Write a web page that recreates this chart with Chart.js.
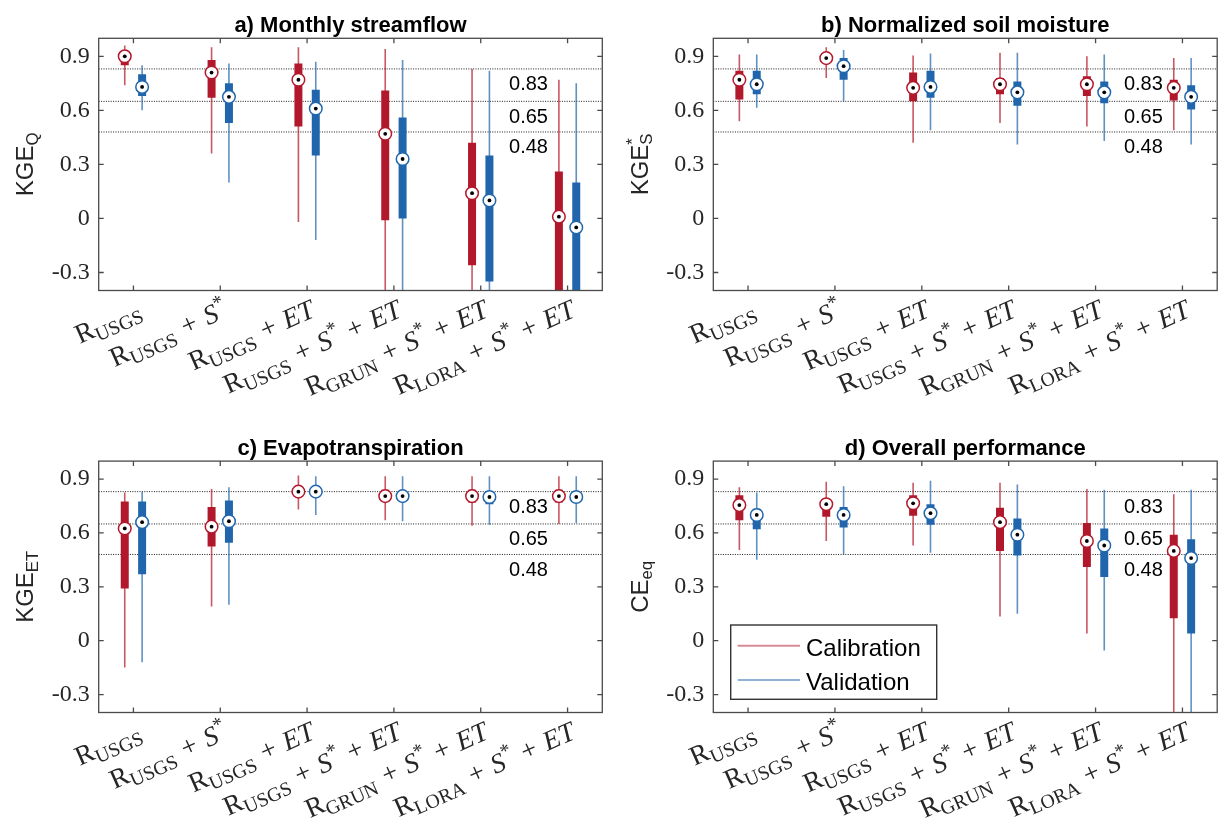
<!DOCTYPE html>
<html>
<head>
<meta charset="utf-8">
<script src="https://cdn.jsdelivr.net/npm/chart.js@4.4.1/dist/chart.umd.min.js"></script>
<style>
  body { margin: 0; background: #fff; }
  #wrap { position: relative; width: 1225px; height: 836px; }
  #wrap canvas { position: absolute; left: 0; top: 0; }
</style>
</head>
<body>
<div id="wrap">
  <canvas id="panelA" width="1225" height="836"></canvas>
  <canvas id="panelB" width="1225" height="836"></canvas>
  <canvas id="panelC" width="1225" height="836"></canvas>
  <canvas id="panelD" width="1225" height="836"></canvas>
</div>
<script>
// Categories (simple markup: _{} subscript, ^{} superscript)
const groups = ['R_{USGS}', 'R_{USGS} + S^{*}', 'R_{USGS} + ET', 'R_{USGS} + S^{*} + ET', 'R_{GRUN} + S^{*} + ET', 'R_{LORA} + S^{*} + ET'];
const yTicks = [-0.3, 0, 0.3, 0.6, 0.9];
const thresholds = [0.83, 0.65, 0.48];
const seriesNames = ['Calibration', 'Validation'];

// Box stats per group: [whisker low, q1, median, q3, whisker high]
// a) Monthly streamflow
const streamCal = [[0.74, 0.85, 0.90, 0.92, 0.96], [0.36, 0.67, 0.81, 0.88, 0.95], [-0.02, 0.51, 0.77, 0.86, 0.95],
  [-0.9, -0.01, 0.47, 0.71, 0.94], [-1.2, -0.26, 0.14, 0.42, 0.83], [-1.5, -0.6, 0.01, 0.26, 0.77]];
const streamVal = [[0.60, 0.68, 0.73, 0.80, 0.85], [0.20, 0.53, 0.675, 0.75, 0.86], [-0.12, 0.35, 0.61, 0.715, 0.87],
  [-0.8, 0.0, 0.33, 0.56, 0.88], [-1.2, -0.35, 0.10, 0.35, 0.82], [-1.5, -0.65, -0.05, 0.20, 0.75]];
// b) Normalized soil moisture
const soilCal = [[0.54, 0.66, 0.77, 0.82, 0.91], [0.78, 0.87, 0.89, 0.91, 0.95], [0.42, 0.65, 0.725, 0.81, 0.905],
  [0.53, 0.69, 0.745, 0.78, 0.92], [0.51, 0.68, 0.745, 0.79, 0.90], [0.49, 0.655, 0.725, 0.77, 0.89]];
const soilVal = [[0.615, 0.69, 0.745, 0.82, 0.91], [0.65, 0.77, 0.845, 0.89, 0.935], [0.49, 0.67, 0.73, 0.82, 0.915],
  [0.41, 0.625, 0.70, 0.76, 0.92], [0.43, 0.64, 0.70, 0.76, 0.91], [0.41, 0.605, 0.675, 0.74, 0.89]];
// c) Evapotranspiration
const etCal = [[-0.15, 0.29, 0.625, 0.775, 0.825], [0.19, 0.525, 0.635, 0.745, 0.845], [0.73, 0.815, 0.83, 0.845, 0.92],
  [0.67, 0.775, 0.805, 0.84, 0.915], [0.64, 0.77, 0.805, 0.84, 0.915], [0.65, 0.77, 0.805, 0.84, 0.915]];
const etVal = [[-0.12, 0.37, 0.66, 0.775, 0.83], [0.20, 0.545, 0.665, 0.78, 0.855], [0.70, 0.81, 0.83, 0.845, 0.915],
  [0.665, 0.785, 0.805, 0.825, 0.915], [0.645, 0.76, 0.80, 0.83, 0.915], [0.655, 0.78, 0.80, 0.825, 0.915]];
// d) Overall performance
const overallCal = [[0.505, 0.67, 0.755, 0.81, 0.855], [0.555, 0.69, 0.76, 0.79, 0.885], [0.53, 0.695, 0.765, 0.81, 0.88],
  [0.135, 0.50, 0.66, 0.74, 0.88], [0.04, 0.41, 0.555, 0.655, 0.845], [-0.9, 0.125, 0.50, 0.59, 0.815]];
const overallVal = [[0.45, 0.62, 0.70, 0.735, 0.825], [0.48, 0.63, 0.70, 0.745, 0.86], [0.49, 0.645, 0.71, 0.76, 0.89],
  [0.15, 0.475, 0.59, 0.68, 0.87], [-0.055, 0.355, 0.53, 0.625, 0.84], [-0.9, 0.04, 0.46, 0.565, 0.84]];

// Styling
const RED = '#b2182b';
const BLUE = '#2166ac';
const RED_WHISKER = 'rgba(178,24,43,0.72)';
const BLUE_WHISKER = 'rgba(33,102,172,0.72)';
const TEXT = '#262626';
const SERIF = '"Liberation Serif", "DejaVu Serif", serif';
const SANS = '"Liberation Sans", Arial, sans-serif';
const OFFSET = 0.1; // calibration left, validation right of each tick
const LABEL_X = 5.55; // where the threshold numbers sit
const X_MIN = 0.6, X_MAX = 6.4, Y_MIN = -0.4, Y_MAX = 1.0;
const LABEL_ROT = 24 * Math.PI / 180;
const Y_AXIS_W = 60;

const panels = [
  { id: 'panelA', title: 'a) Monthly streamflow', ylabel: 'KGE_{Q}', cal: streamCal, val: streamVal,
    area: { left: 98.7, top: 38.3, right: 602.3, bottom: 290.5 } },
  { id: 'panelB', title: 'b) Normalized soil moisture', ylabel: 'KGE_{S}^{*}', cal: soilCal, val: soilVal,
    area: { left: 713.3, top: 38.3, right: 1223.7, bottom: 290.5 } },
  { id: 'panelC', title: 'c) Evapotranspiration', ylabel: 'KGE_{ET}', cal: etCal, val: etVal,
    area: { left: 98.7, top: 461.1, right: 602.3, bottom: 712.5 } },
  { id: 'panelD', title: 'd) Overall performance', ylabel: 'CE_{eq}', cal: overallCal, val: overallVal,
    area: { left: 713.3, top: 461.1, right: 1223.7, bottom: 712.5 }, legend: true }
];

// Split 'R_{USGS} + S^{*}' into parts with a level (0 base, -1 sub, 1 sup)
function parseMarkup(str) {
  const out = [];
  let buf = '';
  let i = 0;
  while (i < str.length) {
    const c = str[i];
    if ((c === '_' || c === '^') && str[i + 1] === '{') {
      if (buf) { out.push({ text: buf, level: 0 }); buf = ''; }
      const end = str.indexOf('}', i);
      out.push({ text: str.slice(i + 2, end), level: c === '_' ? -1 : 1 });
      i = end + 1;
    } else {
      buf += c;
      i++;
    }
  }
  if (buf) out.push({ text: buf, level: 0 });
  return out;
}

function layoutRich(ctx, str, family, size, styleFor, spaceW, scriptScale) {
  const parts = parseMarkup(str);
  const items = [];
  const sc = scriptScale || 0.7;
  let x = 0, scriptStart = 0, scriptWidth = 0;
  parts.forEach((p, k) => {
    if (p.level === 0) {
      for (const ch of p.text) {
        const font = `${styleFor(ch)} ${size}px ${family}`;
        ctx.font = font;
        items.push({ text: ch, font, x, dy: 0 });
        x += (ch === ' ' && spaceW) ? spaceW : ctx.measureText(ch).width;
      }
    } else {
      const s = size * sc;
      const font = `normal ${s}px ${family}`;
      ctx.font = font;
      const w = ctx.measureText(p.text).width;
      if (k > 0 && parts[k - 1].level !== 0) {
        scriptWidth = Math.max(scriptWidth, w);
      } else {
        scriptStart = x;
        scriptWidth = w;
      }
      items.push({ text: p.text, font, x: scriptStart, dy: p.level < 0 ? size * 0.2 : -size * 0.4 });
      x = scriptStart + scriptWidth;
    }
  });
  return { items, width: x };
}

function drawRich(ctx, rich, x0, y0) {
  rich.items.forEach(it => {
    ctx.font = it.font;
    ctx.fillText(it.text, x0 + it.x, y0 + it.dy);
  });
}

const panelDecor = {
  id: 'panelDecor',
  afterDatasetsDraw(chart, args, opts) {
    const { ctx, chartArea: a } = chart;
    const x = chart.scales.x, y = chart.scales.y;
    ctx.save();

    // threshold numbers
    ctx.fillStyle = '#000';
    ctx.font = `20px ${SANS}`;
    ctx.textAlign = 'center';
    ctx.textBaseline = 'alphabetic';
    thresholds.forEach(t => {
      ctx.fillText(t.toFixed(2), x.getPixelForValue(LABEL_X), y.getPixelForValue(t) + 21.5);
    });

    // axes box with inward ticks
    ctx.strokeStyle = '#4a4a4a';
    ctx.lineWidth = 1.3;
    ctx.strokeRect(a.left, a.top, a.right - a.left, a.bottom - a.top);
    ctx.beginPath();
    groups.forEach((g, i) => {
      const px = x.getPixelForValue(i + 1);
      ctx.moveTo(px, a.top); ctx.lineTo(px, a.top + 5);
      ctx.moveTo(px, a.bottom); ctx.lineTo(px, a.bottom - 5);
    });
    yTicks.forEach(v => {
      const py = y.getPixelForValue(v);
      ctx.moveTo(a.left, py); ctx.lineTo(a.left + 5, py);
      ctx.moveTo(a.right, py); ctx.lineTo(a.right - 5, py);
    });
    ctx.stroke();

    // title
    ctx.fillStyle = '#000';
    ctx.textAlign = 'center';
    ctx.font = `bold 22px ${SANS}`;
    ctx.fillText(opts.title, (a.left + a.right) / 2, a.top - 6.5);

    // y label, rotated
    ctx.fillStyle = TEXT;
    ctx.textAlign = 'left';
    const yl = layoutRich(ctx, opts.ylabel, SANS, 24, () => 'normal');
    ctx.save();
    ctx.translate(a.left - 65.7, (a.top + a.bottom) / 2);
    ctx.rotate(-Math.PI / 2);
    drawRich(ctx, yl, -yl.width / 2, 0);
    ctx.restore();

    // category labels, rotated
    groups.forEach((g, i) => {
      const rich = layoutRich(ctx, g, SERIF, 27.5, ch => (ch === 'R' || ch === '+' || ch === ' ') ? 'normal' : 'italic', 9, 0.72);
      ctx.save();
      ctx.translate(x.getPixelForValue(i + 1) + 2, a.bottom + 9);
      ctx.rotate(-LABEL_ROT);
      drawRich(ctx, rich, -rich.width, 18);
      ctx.restore();
    });

    // legend
    if (opts.legend) {
      const lx = 730.7, ly = 625, lw = 206, lh = 74.3;
      ctx.fillStyle = '#fff';
      ctx.fillRect(lx, ly, lw, lh);
      ctx.strokeStyle = '#333';
      ctx.lineWidth = 1.4;
      ctx.strokeRect(lx, ly, lw, lh);
      const cols = ['rgba(178,24,43,0.5)', 'rgba(33,102,172,0.5)'];
      seriesNames.forEach((name, k) => {
        const yy = k === 0 ? 645.7 : 680;
        ctx.strokeStyle = cols[k];
        ctx.lineWidth = 2;
        ctx.beginPath();
        ctx.moveTo(737.7, yy); ctx.lineTo(800, yy);
        ctx.stroke();
        ctx.fillStyle = '#000';
        ctx.font = `24px ${SANS}`;
        ctx.textAlign = 'left';
        ctx.fillText(name, 806, yy + 9.8);
      });
    }
    ctx.restore();
  }
};

function boxDatasets(stats, side, boxColor, whiskerColor) {
  const xs = stats.map((s, i) => i + 1 + side * OFFSET);
  return [
    { type: 'bar', order: 4, grouped: false, maxBarThickness: 1.6, backgroundColor: whiskerColor,
      data: stats.map((s, i) => ({ x: xs[i], y: [s[0], s[4]] })) },
    { type: 'bar', order: 3, grouped: false, maxBarThickness: 8, backgroundColor: boxColor,
      data: stats.map((s, i) => ({ x: xs[i], y: [s[1], s[3]] })) },
    { type: 'scatter', order: 2, pointRadius: 6.3, pointBorderWidth: 1.5, pointBackgroundColor: '#fff',
      pointBorderColor: boxColor, data: stats.map((s, i) => ({ x: xs[i], y: s[2] })) },
    { type: 'scatter', order: 1, pointRadius: 1.9, pointBorderWidth: 0, pointBackgroundColor: '#000',
      data: stats.map((s, i) => ({ x: xs[i], y: s[2] })) }
  ];
}

panels.forEach(p => {
  const thresholdSets = thresholds.map(t => ({
    type: 'line', order: 5, borderColor: '#1a1a1a', borderWidth: 1, borderDash: [1, 1.4], pointRadius: 0,
    data: [{ x: X_MIN, y: t }, { x: X_MAX, y: t }]
  }));
  new Chart(document.getElementById(p.id), {
    type: 'bar',
    data: {
      datasets: [
        ...boxDatasets(p.cal, -1, RED, RED_WHISKER),
        ...boxDatasets(p.val, 1, BLUE, BLUE_WHISKER),
        ...thresholdSets
      ]
    },
    options: {
      responsive: false,
      animation: false,
      events: [],
      layout: { padding: { left: p.area.left - Y_AXIS_W, top: p.area.top, right: 1225 - p.area.right, bottom: 836 - p.area.bottom } },
      scales: {
        x: { type: 'linear', min: X_MIN, max: X_MAX, offset: false, display: false },
        y: {
          type: 'linear', min: Y_MIN, max: Y_MAX, beginAtZero: false,
          grid: { display: false, drawTicks: false },
          border: { display: false },
          afterBuildTicks: axis => { axis.ticks = yTicks.map(v => ({ value: v })); },
          afterFit: axis => { axis.width = Y_AXIS_W; },
          ticks: {
            padding: 9, color: TEXT, font: { family: SERIF, size: 24 },
            callback: v => (v === 0 ? '0' : v.toFixed(1))
          }
        }
      },
      plugins: {
        legend: { display: false },
        tooltip: { enabled: false },
        panelDecor: { title: p.title, ylabel: p.ylabel, legend: !!p.legend }
      }
    },
    plugins: [panelDecor]
  });
});
</script>
</body>
</html>
